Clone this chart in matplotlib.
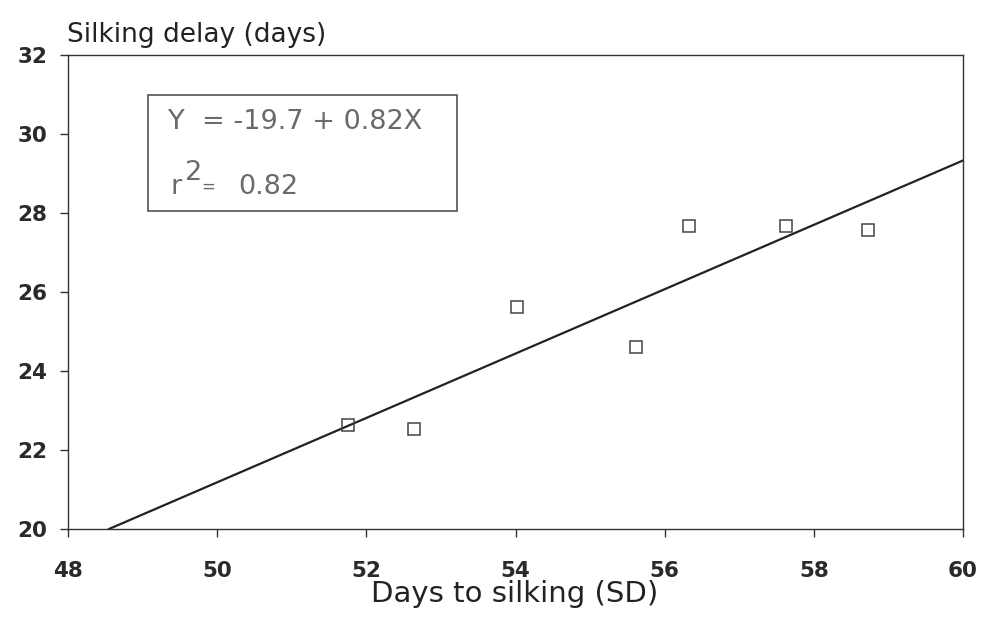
import numpy as np
import matplotlib.pyplot as plt

days_to_silking = [51.75, 52.64, 54.02, 55.62, 56.33, 57.63, 58.73]
silking_delay = [22.62, 22.53, 25.63, 24.61, 27.68, 27.68, 27.58]

# regression line drawn across the plot
line_x = [48.55, 60.0]
line_y = [20.0, 29.33]

x_ticks = [48, 50, 52, 54, 56, 58, 60]
y_ticks = [20, 22, 24, 26, 28, 30, 32]

plt.rcParams['font.family'] = ['DejaVu Sans']

fig = plt.figure(figsize=(9.84, 6.2), dpi=100)
ax = fig.add_axes([0.0691, 0.1468, 0.9096, 0.7645])

ax.plot(line_x, line_y, color='#222222', lw=1.6)
ax.plot(days_to_silking, silking_delay, 's', ms=8, mfc='none', mec='#444444', mew=1.1)

ax.set_xlim(48, 60)
ax.set_ylim(20, 32)
ax.set_xticks(x_ticks)
ax.set_yticks(y_ticks)
ax.tick_params(direction='out', length=6, width=1, colors='#333333', labelsize=15.5)
ax.tick_params(axis='x', pad=17)
ax.tick_params(axis='y', pad=9)
for lab in ax.get_xticklabels() + ax.get_yticklabels():
    lab.set_fontweight('bold')
    lab.set_color('#2a2a2a')
for s in ax.spines.values():
    s.set_color('#333333')
    s.set_linewidth(1)

fig.text(0.5235, 0.029, 'Days to silking (SD)', fontsize=21, color='#222222',
         ha='center', va='baseline')
fig.text(0.068, 0.932, 'Silking delay (days)', fontsize=19, color='#222222',
         ha='left', va='baseline')

# equation box
box = plt.Rectangle((0.0894, 0.671), 0.345, 0.245, transform=ax.transAxes,
                    fill=False, ec='#444444', lw=1.1)
ax.add_patch(box)
eq = dict(transform=ax.transAxes, color='#6a6a6a', ha='left', va='center')
ax.text(0.1117, 0.859, 'Y  = -19.7 + 0.82X', fontsize=19.5, **eq)
ax.text(0.115, 0.7215, 'r', fontsize=19.5, **eq)
ax.text(0.131, 0.752, '2', fontsize=19.5, **eq)
ax.text(0.1485, 0.7215, '=', fontsize=12, **eq)
ax.text(0.190, 0.7215, '0.82', fontsize=19.5, **eq)

fig.savefig('out.png', dpi=100)
